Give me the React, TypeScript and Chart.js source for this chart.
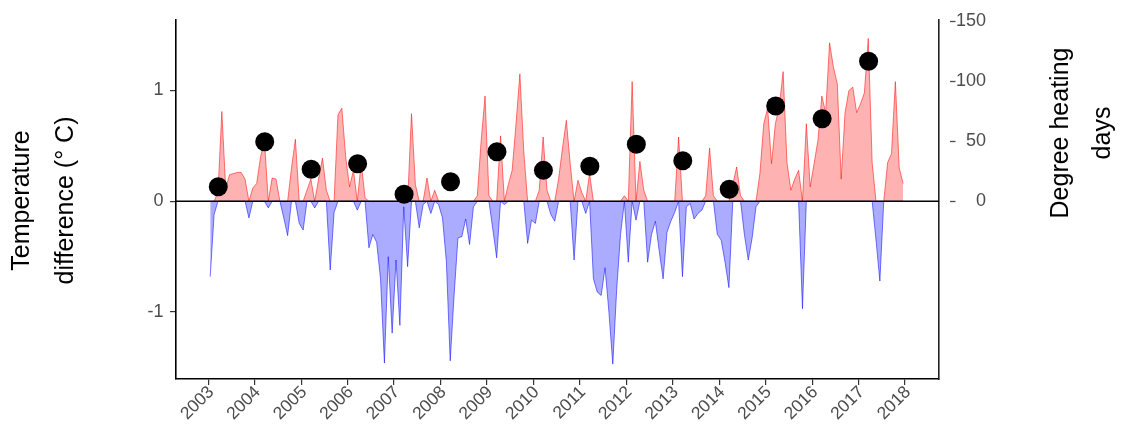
import React, { useEffect, useRef } from "react";
import { Chart, registerables } from "chart.js";

Chart.register(...registerables);

// Monthly temperature difference (°C), Jan 2003 .. Dec 2017
const startYear = 2003;
const tempDiff: number[] = [
  -0.68, -0.12, 0.08, 0.81, 0.12, 0.24, 0.25, 0.26, 0.26, 0.2, -0.15, 0.12,
  0.16, 0.4, 0.55, -0.06, 0.21, 0.2, 0.0, -0.15, -0.31, 0.3, 0.56, -0.2,
  -0.26, 0.1, 0.2, -0.06, 0.2, 0.39, 0.1, -0.62, -0.1, 0.78, 0.84, 0.4,
  0.13, 0.28, -0.08, 0.35, 0.03, -0.42, -0.3, -0.37, -0.7, -1.46, -0.5, -1.19,
  -0.53, -1.12, -0.05, -0.59, 0.79, 0.15, -0.24, -0.03, 0.21, -0.11, 0.1, -0.03,
  -0.15, -0.54, -1.44, -0.85, -0.33, -0.32, -0.16, -0.39, -0.05, 0.05, 0.55, 0.95,
  0.05, -0.25, -0.51, 0.59, -0.03, 0.15, 0.28, 0.7, 1.15, 0.45, -0.38, -0.17,
  -0.2, 0.1, 0.58, 0.1, -0.12, -0.18, 0.2, 0.48, 0.73, 0.34, -0.53, 0.19,
  0.08, -0.11, 0.25, -0.7, -0.82, -0.85, -0.6, -1.0, -1.47, -0.8, -0.3, 0.05,
  -0.55, 1.08, -0.17, 0.36, 0.1, -0.55, -0.3, -0.18, -0.45, -0.7, -0.28, -0.18,
  -0.1, 0.58, -0.68, -0.05, -0.02, -0.16, -0.11, -0.08, 0.05, 0.48, 0.05, -0.3,
  -0.35, -0.55, -0.78, 0.15, 0.31, 0.05, -0.3, -0.53, -0.33, -0.05, 0.25, 0.7,
  0.84, 0.34, 0.7, 0.85, 1.17, 0.35, 0.1, 0.2, 0.28, -0.97, 0.7, 0.13,
  0.34, 0.55, 0.95, 0.8, 1.43, 1.21, 1.06, 0.2, 0.8, 1.0, 1.03, 0.8,
  0.88, 0.98, 1.47, 0.35, -0.35, -0.72, 0.0, 0.35, 0.43, 1.08, 0.3, 0.16,
];

// Degree heating days, one per year
const dhdYears: number[] = [2003, 2004, 2005, 2006, 2007, 2008, 2009, 2010, 2011, 2012, 2013, 2014, 2015, 2016, 2017];
const dhdValues: number[] = [12.2, 49.7, 26.7, 31.3, 5.8, 16.3, 41.3, 25.8, 29.2, 47.5, 33.8, 10, 79.4, 68.8, 116.7];
const dhdOffset = 0.215; // position within year

const xTicks: number[] = [2003, 2004, 2005, 2006, 2007, 2008, 2009, 2010, 2011, 2012, 2013, 2014, 2015, 2016, 2017, 2018];
const leftTicks: number[] = [-1, 0, 1];
const rightTicks: number[] = [0, 50, 100, 150];

const X_MIN = 2002.305;
const X_MAX = 2018.731;
const Y_MIN = -1.604;
const Y_MAX = 1.636;
const Y2_MIN = -148.1;
const Y2_MAX = 151.1;

const FONT = '"Liberation Sans", Arial, sans-serif';
const TICK_COLOR = "#4D4D4D";

const monthX = tempDiff.map((_, i) => startYear + (i + 0.5) / 12);

const decorPlugin = {
  id: "decor",
  afterDraw(chart: any) {
    const ctx = chart.ctx as CanvasRenderingContext2D;
    const y2 = chart.scales.y2;
    ctx.save();
    // right axis tick dashes
    ctx.strokeStyle = "#4D4D4D";
    ctx.lineWidth = 1.3;
    rightTicks.forEach((v) => {
      const py = Math.round(y2.getPixelForValue(v)) + 0.5;
      ctx.beginPath();
      ctx.moveTo(950, py);
      ctx.lineTo(955.5, py);
      ctx.stroke();
    });
    // axis titles
    ctx.fillStyle = "#000";
    ctx.font = `25px ${FONT}`;
    ctx.textAlign = "center";
    ctx.textBaseline = "middle";
    const drawRot = (text: string, x: number, y: number) => {
      ctx.save();
      ctx.translate(x, y);
      ctx.rotate(-Math.PI / 2);
      ctx.fillText(text, 0, 0);
      ctx.restore();
    };
    drawRot("Temperature", 22, 200.5);
    drawRot("difference (° C)", 66, 200.5);
    drawRot("Degree heating", 1061.5, 133);
    drawRot("days", 1103, 133);
    ctx.restore();
  },
};

export default function App() {
  const ref = useRef<HTMLCanvasElement | null>(null);

  useEffect(() => {
    if (!ref.current) return;
    const pos = tempDiff.map((v, i) => ({ x: monthX[i], y: Math.max(v, 0) }));
    const neg = tempDiff.map((v, i) => ({ x: monthX[i], y: Math.min(v, 0) }));
    const dots = dhdYears.map((yr, i) => ({ x: yr + dhdOffset, y: dhdValues[i] }));

    const chart = new Chart(ref.current, {
      type: "line",
      data: {
        datasets: [
          {
            label: "DHD",
            data: dots,
            yAxisID: "y2",
            showLine: false,
            pointRadius: 9.5,
            pointBackgroundColor: "#000",
            pointBorderWidth: 0,
            borderColor: "#000",
            order: 0,
          } as any,
          {
            label: "zero",
            data: [
              { x: X_MIN, y: 0 },
              { x: X_MAX, y: 0 },
            ],
            yAxisID: "y",
            borderColor: "#000",
            borderWidth: 1.6,
            pointRadius: 0,
            fill: false,
            order: 1,
          },
          {
            label: "neg",
            data: neg,
            yAxisID: "y",
            borderColor: "rgba(0,0,255,0.75)",
            borderWidth: 0.7,
            backgroundColor: "rgba(0,0,255,0.33)",
            fill: "origin",
            pointRadius: 0,
            tension: 0,
            order: 2,
          },
          {
            label: "pos",
            data: pos,
            yAxisID: "y",
            borderColor: "rgba(255,0,0,0.75)",
            borderWidth: 0.7,
            backgroundColor: "rgba(255,0,0,0.3)",
            fill: "origin",
            pointRadius: 0,
            tension: 0,
            order: 3,
          },
        ],
      },
      options: {
        animation: false,
        responsive: false,
        devicePixelRatio: 1,
        layout: { padding: { top: 20, left: 0, right: 135, bottom: 0 } },
        plugins: { legend: { display: false }, tooltip: { enabled: false } },
        scales: {
          x: {
            type: "linear",
            min: X_MIN,
            max: X_MAX,
            afterBuildTicks: (s: any) => {
              s.ticks = xTicks.map((v) => ({ value: v }));
            },
            afterFit: (s: any) => {
              s.height = 55;
            },
            border: { display: true, color: "#000", width: 1.6 },
            grid: { drawOnChartArea: false, drawTicks: true, tickLength: 6, color: "#333", lineWidth: 1.2 },
            ticks: {
              autoSkip: false,
              maxRotation: 45,
              minRotation: 45,
              padding: -3,
              labelOffset: 3,
              color: TICK_COLOR,
              font: { family: FONT, size: 17.5 },
              callback: (v: any) => String(v),
            },
          },
          y: {
            type: "linear",
            position: "left",
            min: Y_MIN,
            max: Y_MAX,
            afterBuildTicks: (s: any) => {
              s.ticks = leftTicks.map((v) => ({ value: v }));
            },
            afterFit: (s: any) => {
              s.width = 176;
            },
            border: { display: true, color: "#000", width: 1.6 },
            grid: { drawOnChartArea: false, drawTicks: true, tickLength: 6, color: "#333", lineWidth: 1.2 },
            ticks: {
              padding: 6.5,
              color: TICK_COLOR,
              font: { family: FONT, size: 18 },
              callback: (v: any) => String(v),
            },
          },
          y2: {
            type: "linear",
            position: "right",
            min: Y2_MIN,
            max: Y2_MAX,
            afterBuildTicks: (s: any) => {
              s.ticks = rightTicks.map((v) => ({ value: v }));
            },
            afterFit: (s: any) => {
              s.width = 47;
            },
            border: { display: true, color: "#222", width: 1.6 },
            grid: { drawOnChartArea: false, drawTicks: false },
            ticks: {
              crossAlign: "far",
              padding: 0,
              color: TICK_COLOR,
              font: { family: FONT, size: 18 },
              callback: (v: any) => String(v),
            },
          },
        },
      },
      plugins: [decorPlugin],
    });
    return () => chart.destroy();
  }, []);

  return (
    <div style={{ position: "fixed", left: 0, top: 0, width: 1121, height: 434, background: "#fff" }}>
      <canvas ref={ref} width={1121} height={434} style={{ display: "block", width: 1121, height: 434 }} />
    </div>
  );
}
